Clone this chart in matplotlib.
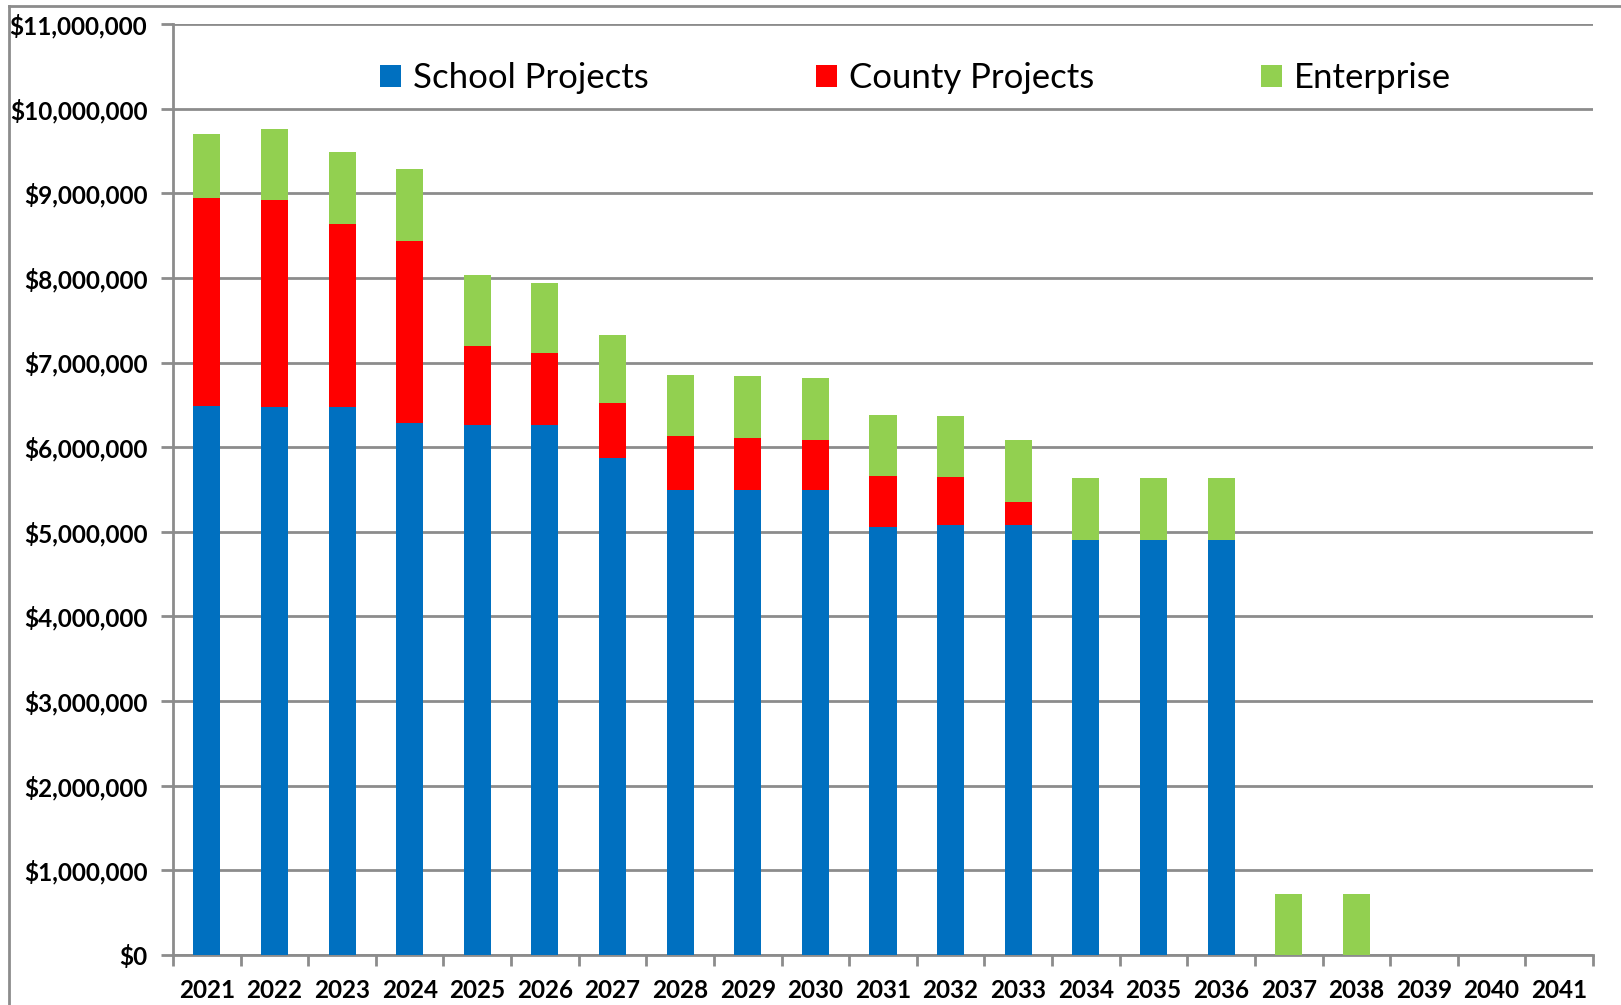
import numpy as np
import matplotlib
matplotlib.use("Agg")
import matplotlib.pyplot as plt
from matplotlib.ticker import FuncFormatter, FixedLocator
from matplotlib.lines import Line2D

# Data
years = [str(y) for y in range(2021, 2042)]
school = [6490000, 6480000, 6480000, 6280000, 6260000, 6260000, 5870000,
          5490000, 5490000, 5490000, 5060000, 5080000, 5080000, 4900000,
          4900000, 4900000, 0, 0, 0, 0, 0]
county = [2450000, 2440000, 2160000, 2160000, 930000, 850000, 650000,
          640000, 620000, 590000, 600000, 570000, 270000, 0,
          0, 0, 0, 0, 0, 0, 0]
enterprise = [760000, 840000, 850000, 850000, 840000, 830000, 800000,
              720000, 730000, 740000, 720000, 720000, 730000, 730000,
              730000, 730000, 720000, 720000, 0, 0, 0]
series_names = ["School Projects", "County Projects", "Enterprise"]
colors = ["#0070C0", "#FF0000", "#92D050"]

grid_col = "#8c8c8c"
font = "Lato"

fig = plt.figure(figsize=(16.21, 10.05), dpi=100)
ax = fig.add_axes([173 / 1621, 1 - 955 / 1005, 1420 / 1621, 931 / 1005])

x = np.arange(len(years))
school = np.array(school)
county = np.array(county)
enterprise = np.array(enterprise)

w = 0.40
ax.bar(x, school, w, color=colors[0], label=series_names[0], zorder=3)
ax.bar(x, county, w, bottom=school, color=colors[1], label=series_names[1], zorder=3)
ax.bar(x, enterprise, w, bottom=school + county, color=colors[2], label=series_names[2], zorder=3)

ax.set_xlim(-0.5, len(years) - 0.5)
ax.set_ylim(0, 11000000)
ax.set_yticks(np.arange(0, 11000001, 1000000))
ax.yaxis.set_major_formatter(FuncFormatter(lambda v, p: "${:,.0f}".format(v)))
ax.grid(axis="y", color=grid_col, linewidth=2, zorder=0)
ax.set_axisbelow(True)

ax.set_xticks(x)
ax.set_xticklabels(years)
ax.xaxis.set_minor_locator(FixedLocator(np.arange(-0.5, len(years), 1.0)))
ax.tick_params(axis="x", which="major", length=0, pad=17)
ax.tick_params(axis="x", which="minor", length=8, width=2, color=grid_col)
ax.tick_params(axis="y", length=9, width=2, color=grid_col, pad=9.5)

for lab in ax.get_xticklabels() + ax.get_yticklabels():
    lab.set_fontfamily(font)
    lab.set_fontweight("bold")
    lab.set_fontsize(17.5)

for s in ["top", "right"]:
    ax.spines[s].set_visible(False)
for s in ["left", "bottom"]:
    ax.spines[s].set_color(grid_col)
    ax.spines[s].set_linewidth(2)

leg = ax.legend(loc="center", bbox_to_anchor=(0.523, 0.942), ncol=3, frameon=False,
                prop={"family": font, "size": 25}, handlelength=0.6, handleheight=0.6,
                handletextpad=0.35, columnspacing=4.8)

# outer chart frame (left and top edges)
fig.add_artist(Line2D([9 / 1621, 9 / 1621], [0, 1 - 6 / 1005], color=grid_col, linewidth=2))
fig.add_artist(Line2D([9 / 1621, 1], [1 - 6 / 1005, 1 - 6 / 1005], color=grid_col, linewidth=2))

fig.savefig("out.png", dpi=100)
